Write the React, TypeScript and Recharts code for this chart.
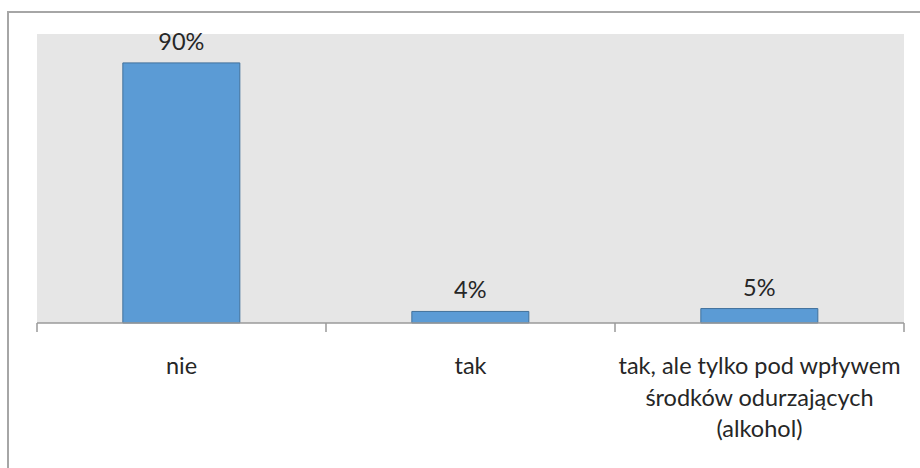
import { Bar, BarChart, CartesianGrid, LabelList, XAxis, YAxis } from "recharts"

const categories = ["nie", "tak", "tak, ale tylko pod wpływem środków odurzających (alkohol)"]
const categoryLines = [["nie"], ["tak"], ["tak, ale tylko pod wpływem", "środków odurzających", "(alkohol)"]]
const shares = [90, 4, 5]

const data = categories.map((name, i) => ({ name, value: shares[i], lines: categoryLines[i] }))

const WIDTH = 920
const HEIGHT = 468
const MARGIN = { top: 34, right: 16, bottom: 115, left: 37 }
const BAND = (WIDTH - MARGIN.left - MARGIN.right) / categories.length
const FONT = "Lato, 'Open Sans', sans-serif"

function CategoryTick(props: any) {
  const { x, y, index } = props
  const lines = categoryLines[index] ?? []
  const isLast = index === categories.length - 1
  return (
    <g>
      <line x1={x - BAND / 2} x2={x - BAND / 2} y1={y - 8} y2={y + 1} stroke="#9a9a9a" strokeWidth={1.5} />
      {isLast && <line x1={x + BAND / 2} x2={x + BAND / 2} y1={y - 8} y2={y + 1} stroke="#9a9a9a" strokeWidth={1.5} />}
      <text x={x} y={y} textAnchor="middle" fill="#262626" fontSize={23.5} fontFamily={FONT}>
        {lines.map((line: string, i: number) => (
          <tspan key={i} x={x} dy={i === 0 ? 43 : 31.5}>
            {line}
          </tspan>
        ))}
      </text>
    </g>
  )
}

export default function App() {
  return (
    <div style={{ position: "fixed", left: 0, top: 0, width: WIDTH, height: HEIGHT, background: "#fff", overflow: "hidden" }}>
      <div
        style={{
          position: "absolute",
          left: 7,
          top: 11,
          width: 960,
          height: 520,
          border: "2px solid #a6a6a6",
          boxSizing: "border-box",
        }}
      />
      <div style={{ position: "absolute", left: 0, top: 0 }}>
        <BarChart width={WIDTH} height={HEIGHT} data={data} margin={MARGIN} barCategoryGap="29.7%">
          <CartesianGrid horizontal={false} vertical={false} fill="#e6e6e6" />
          <XAxis
            dataKey="name"
            axisLine={{ stroke: "#9a9a9a", strokeWidth: 1.5 }}
            tickLine={false}
            tick={<CategoryTick />}
            interval={0}
          />
          <YAxis hide domain={[0, 100]} />
          <Bar dataKey="value" fill="#5b9bd5" stroke="#41719c" strokeWidth={1} isAnimationActive={false}>
            <LabelList
              dataKey="value"
              position="top"
              offset={13}
              formatter={(v: any) => `${v}%`}
              fill="#262626"
              fontSize={23.5}
              fontFamily={FONT}
            />
          </Bar>
        </BarChart>
      </div>
    </div>
  )
}
